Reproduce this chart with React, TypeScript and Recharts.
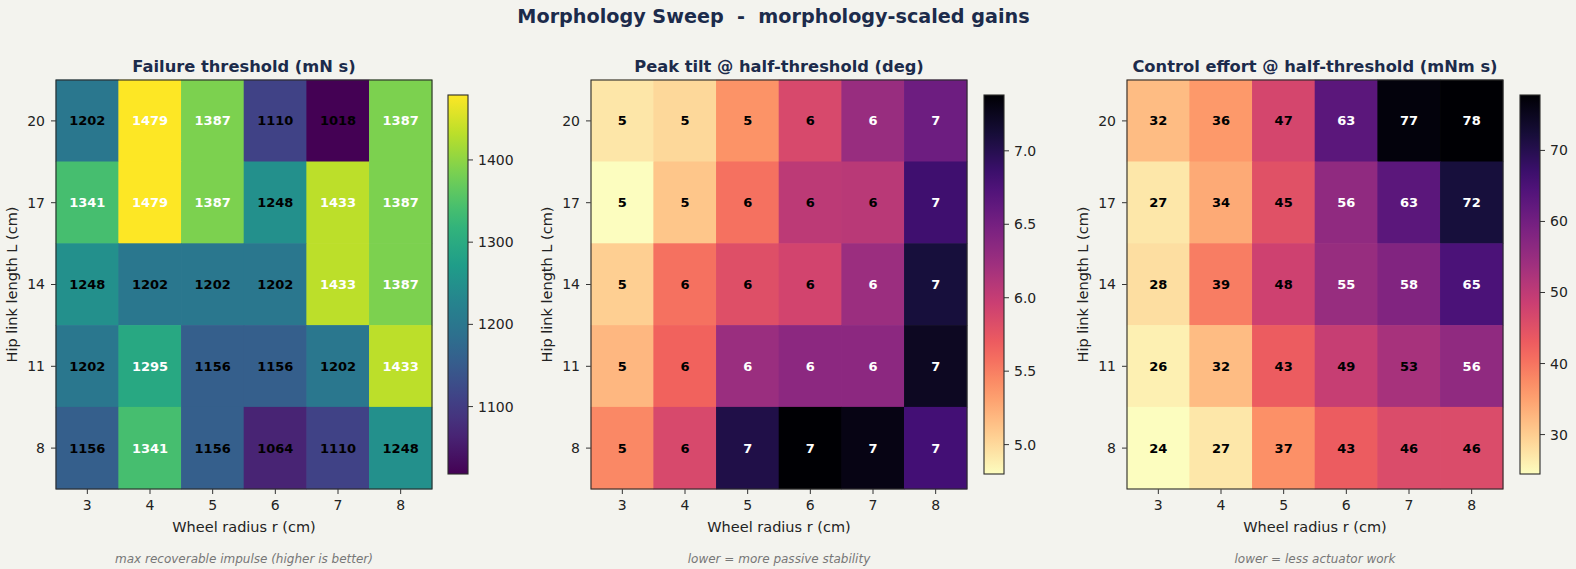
import React from "react";
import { ScatterChart, Scatter, XAxis, YAxis, BarChart, Bar } from "recharts";

// sweep grid: wheel radius across, hip link length down (top row = 20 cm)
const R_VALUES = [3, 4, 5, 6, 7, 8];
const L_VALUES = [20, 17, 14, 11, 8];
const L_TICKS = [8, 11, 14, 17, 20];

const FAILURE_THRESHOLD = [
  [1202, 1479, 1387, 1110, 1018, 1387],
  [1341, 1479, 1387, 1248, 1433, 1387],
  [1248, 1202, 1202, 1202, 1433, 1387],
  [1202, 1295, 1156, 1156, 1202, 1433],
  [1156, 1341, 1156, 1064, 1110, 1248],
];

const PEAK_TILT = [
  [4.93, 5.01, 5.39, 5.87, 6.27, 6.55],
  [4.8, 5.11, 5.57, 6.05, 6.07, 6.84],
  [5.06, 5.57, 5.81, 5.91, 6.25, 7.1],
  [5.19, 5.65, 6.26, 6.35, 6.35, 7.23],
  [5.45, 5.87, 7.04, 7.38, 7.3, 6.81],
];

const CONTROL_EFFORT = [
  [32, 36, 47, 63, 77, 77.8],
  [27, 34, 45, 56, 63, 72],
  [28, 39, 48, 55, 58, 65],
  [26, 32, 43, 49, 53, 56],
  [24.45, 27, 37, 43, 46, 46],
];

const CBAR_TICKS_FAILURE = [1100, 1200, 1300, 1400];
const CBAR_TICKS_TILT = [5.0, 5.5, 6.0, 6.5, 7.0];
const CBAR_TICKS_EFFORT = [30, 40, 50, 60, 70];

const VIRIDIS = ["#440154", "#482878", "#3e4989", "#31688e", "#26828e", "#1f9e89", "#35b779", "#6ece58", "#b5de2b", "#fde725"];
const MAGMA = ["#000004", "#180f3d", "#440f76", "#721f81", "#9e2f7f", "#cd4071", "#f1605d", "#fd9668", "#feca8d", "#fcfdbf"];

const W = 1576;
const H = 569;
const BG = "#f3f3ee";
const NAVY = "#1c2b4b";
const FONT = "'DejaVu Sans', sans-serif";

const PLOT_TOP = 80;
const PLOT_W = 376;
const PLOT_H = 409;
const CELL_W = PLOT_W / R_VALUES.length;
const CELL_H = PLOT_H / L_VALUES.length;
const CB_TOP = 95;
const CB_W = 20;
const CB_H = 379;
const Y_AXIS_W = 56;

const hex = (c: string) => [1, 3, 5].map((i) => parseInt(c.slice(i, i + 2), 16));

function sample(stops: string[], t: number) {
  const x = Math.max(0, Math.min(1, t)) * (stops.length - 1);
  const i = Math.min(Math.floor(x), stops.length - 2);
  const f = x - i;
  const a = hex(stops[i]);
  const b = hex(stops[i + 1]);
  const c = a.map((v, k) => Math.round(v + (b[k] - v) * f));
  return `rgb(${c[0]},${c[1]},${c[2]})`;
}

const viridis = (t: number) => sample(VIRIDIS, t);
const magmaR = (t: number) => sample(MAGMA, 1 - t);

interface PanelProps {
  id: string;
  plotLeft: number;
  cbLeft: number;
  title: string;
  note: string;
  grid: number[][];
  cmap: (t: number) => string;
  cbTicks: number[];
  cbFormat: (v: number) => string;
}

function HeatPanel({ id, plotLeft, cbLeft, title, note, grid, cmap, cbTicks, cbFormat }: PanelProps) {
  const flat = grid.flat();
  const vmin = Math.min(...flat);
  const vmax = Math.max(...flat);
  const norm = (v: number) => (v - vmin) / (vmax - vmin);

  const cells = grid.flatMap((row, i) => row.map((v, j) => ({ r: R_VALUES[j], L: L_VALUES[i], v })));

  const renderCell = (props: any) => {
    const { cx, cy, payload } = props;
    const t = norm(payload.v);
    return (
      <g>
        <rect
          x={cx - CELL_W / 2 - 0.3}
          y={cy - CELL_H / 2 - 0.3}
          width={CELL_W + 0.6}
          height={CELL_H + 0.6}
          fill={cmap(t)}
        />
        <text
          x={cx}
          y={cy}
          textAnchor="middle"
          dominantBaseline="central"
          fontSize={13}
          fontWeight="bold"
          fill={t > 0.55 ? "#ffffff" : "#000000"}
        >
          {Math.round(payload.v)}
        </text>
      </g>
    );
  };

  const tickStyle = { fontSize: 14, fill: "#222" };
  const chartLeft = plotLeft - Y_AXIS_W;
  const center = plotLeft + PLOT_W / 2;

  return (
    <>
      <div style={{ position: "absolute", left: chartLeft, top: 0 }}>
        <ScatterChart
          width={Y_AXIS_W + PLOT_W + 10}
          height={H}
          margin={{ top: PLOT_TOP, right: 10, left: 0, bottom: H - PLOT_TOP - PLOT_H - 40 }}
        >
          <XAxis
            type="number"
            dataKey="r"
            domain={[2.5, 8.5]}
            ticks={R_VALUES}
            interval={0}
            height={40}
            axisLine={false}
            tickLine={{ stroke: "#333" }}
            tickSize={5}
            tickMargin={6}
            tick={tickStyle}
          />
          <YAxis
            type="number"
            dataKey="L"
            domain={[6.5, 21.5]}
            ticks={L_TICKS}
            interval={0}
            width={Y_AXIS_W}
            axisLine={false}
            tickLine={{ stroke: "#333" }}
            tickSize={5}
            tickMargin={6}
            tick={tickStyle}
          />
          <Scatter data={cells} shape={renderCell} isAnimationActive={false} />
        </ScatterChart>
      </div>

      <div style={{ position: "absolute", left: cbLeft, top: 0 }}>
        <BarChart
          width={CB_W + 60}
          height={H}
          data={[{ name: "cb", range: [vmin, vmax] }]}
          margin={{ top: CB_TOP, right: 0, left: 0, bottom: H - CB_TOP - CB_H }}
          barCategoryGap={0}
          barGap={0}
        >
          <defs>
            <linearGradient id={id} x1="0" y1="1" x2="0" y2="0">
              {Array.from({ length: 21 }, (_, k) => (
                <stop key={k} offset={k / 20} stopColor={cmap(k / 20)} />
              ))}
            </linearGradient>
          </defs>
          <XAxis dataKey="name" hide />
          <YAxis
            orientation="right"
            type="number"
            domain={[vmin, vmax]}
            ticks={cbTicks}
            interval={0}
            width={60}
            axisLine={false}
            tickLine={{ stroke: "#333" }}
            tickSize={5}
            tickMargin={5}
            tick={tickStyle}
            tickFormatter={cbFormat}
          />
          <Bar dataKey="range" fill={`url(#${id})`} isAnimationActive={false} />
        </BarChart>
      </div>

      <svg
        width={W}
        height={H}
        style={{ position: "absolute", left: 0, top: 0, pointerEvents: "none" }}
      >
        <rect x={plotLeft} y={PLOT_TOP} width={PLOT_W} height={PLOT_H} fill="none" stroke="#2b2b2b" strokeWidth={1.1} />
        <rect x={cbLeft} y={CB_TOP} width={CB_W} height={CB_H} fill="none" stroke="#2b2b2b" strokeWidth={1.1} />
        <text x={center} y={71.5} textAnchor="middle" fontSize={16.3} fontWeight="bold" fill={NAVY}>
          {title}
        </text>
        <text x={center} y={532} textAnchor="middle" fontSize={14.5} fill="#222">
          Wheel radius r (cm)
        </text>
        <text
          x={0}
          y={0}
          transform={`translate(${plotLeft - 39}, ${PLOT_TOP + PLOT_H / 2}) rotate(-90)`}
          textAnchor="middle"
          fontSize={14.5}
          fill="#222"
        >
          Hip link length L (cm)
        </text>
        <text x={center} y={563} textAnchor="middle" fontSize={12} fontStyle="italic" fill="#777">
          {note}
        </text>
      </svg>
    </>
  );
}

export default function App() {
  return (
    <div
      style={{
        position: "absolute",
        left: 0,
        top: 0,
        width: W,
        height: H,
        background: BG,
        fontFamily: FONT,
        overflow: "hidden",
      }}
    >
      <HeatPanel
        id="cb-failure"
        plotLeft={56}
        cbLeft={448}
        title="Failure threshold (mN s)"
        note="max recoverable impulse (higher is better)"
        grid={FAILURE_THRESHOLD}
        cmap={viridis}
        cbTicks={CBAR_TICKS_FAILURE}
        cbFormat={(v) => String(v)}
      />
      <HeatPanel
        id="cb-tilt"
        plotLeft={591}
        cbLeft={984}
        title="Peak tilt @ half-threshold (deg)"
        note="lower = more passive stability"
        grid={PEAK_TILT}
        cmap={magmaR}
        cbTicks={CBAR_TICKS_TILT}
        cbFormat={(v) => v.toFixed(1)}
      />
      <HeatPanel
        id="cb-effort"
        plotLeft={1127}
        cbLeft={1520}
        title="Control effort @ half-threshold (mNm s)"
        note="lower = less actuator work"
        grid={CONTROL_EFFORT}
        cmap={magmaR}
        cbTicks={CBAR_TICKS_EFFORT}
        cbFormat={(v) => String(v)}
      />
      <svg width={W} height={H} style={{ position: "absolute", left: 0, top: 0, pointerEvents: "none" }}>
        <text
          x={773.5}
          y={22.5}
          textAnchor="middle"
          fontSize={19.2}
          fontWeight="bold"
          fill={NAVY}
          style={{ whiteSpace: "pre" }}
        >
          {"Morphology Sweep  -  morphology-scaled gains"}
        </text>
      </svg>
    </div>
  );
}
